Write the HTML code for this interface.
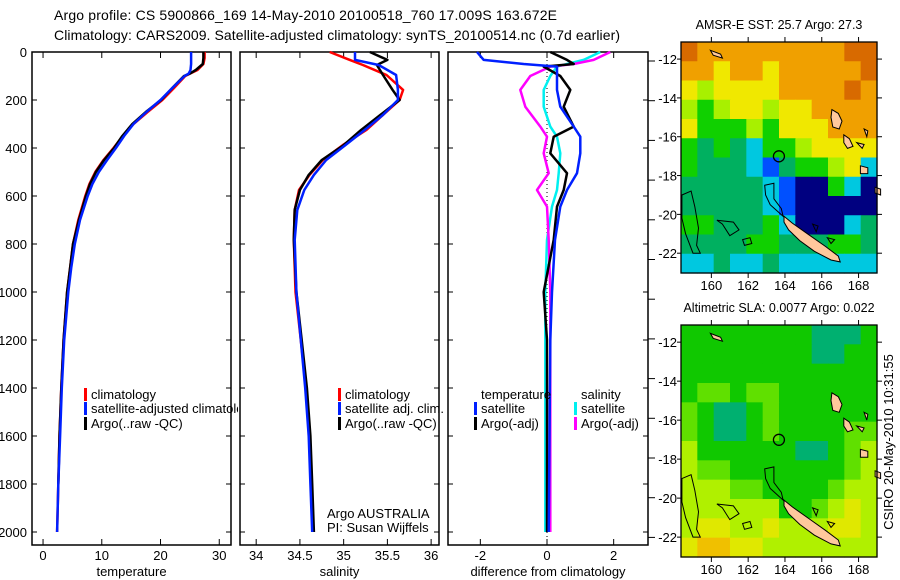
<!DOCTYPE html>
<html><head><meta charset="utf-8"><style>
html,body{margin:0;padding:0;background:#fff;}
svg{display:block;font-family:"Liberation Sans",sans-serif;}
</style></head><body>
<svg id="fig" width="900" height="580" viewBox="0 0 900 580" xmlns="http://www.w3.org/2000/svg">
<defs><clipPath id="clipP1"><rect x="0" y="0" width="238" height="580"/></clipPath></defs>
<rect width="900" height="580" fill="#fff"/>
<text x="54" y="20" font-size="14" textLength="503">Argo profile: CS 5900866_169 14-May-2010 20100518_760 17.009S 163.672E</text>
<text x="54" y="40" font-size="14" textLength="566">Climatology: CARS2009. Satellite-adjusted climatology: synTS_20100514.nc (0.7d earlier)</text>
<g id="layer"></g>
</svg>
<script>
// ---------- profile data ----------
const depths = [0,25,50,75,90,100,150,200,250,300,350,400,450,500,550,600,700,800,900,1000,1200,1400,1600,1800,2000];
const tempClim = [27.5,27.5,27.3,26.3,25,24.2,22.3,20.3,17.8,15.4,13.6,12,10.3,8.9,7.9,7.2,6.0,5.1,4.6,4.1,3.5,3.1,2.8,2.6,2.4];
const tempSat  = [25.2,25.2,25.2,25.1,24.8,24.1,22.0,20.0,17.6,15.4,13.8,12.4,10.9,9.5,8.4,7.6,6.3,5.4,4.8,4.3,3.6,3.2,2.9,2.6,2.4];
const tempArgo = [27.3,27.3,27.2,26.0,25,24.0,22.0,20.1,17.5,15.2,13.5,12.1,10.4,9.0,8.0,7.3,6.1,5.1,4.6,4.1,3.5,3.1,2.8,2.6,2.45];
const salDepths = [0,33,54,96,158,200,262,325,388,450,512,575,658,783,1000,1200,1400,1600,1800,2000];
const salClim = [34.84,35.07,35.22,35.49,35.68,35.64,35.45,35.26,34.99,34.76,34.61,34.49,34.44,34.43,34.45,34.51,34.57,34.61,34.63,34.65];
const salSat  = [35.13,35.13,35.4,35.6,35.62,35.62,35.45,35.24,35.02,34.8,34.66,34.55,34.47,34.44,34.46,34.51,34.56,34.6,34.62,34.64];
const salArgo = [35.3,35.5,35.38,35.45,35.56,35.64,35.42,35.2,35.0,34.75,34.6,34.5,34.44,34.43,34.46,34.52,34.58,34.62,34.64,34.66];
const diffDepths = [0,33,50,61,100,158,228,311,353,422,505,575,644,783,1000,1200,1500,2000];
const dTempSat  = [-2.1,-1.9,-0.7,0.3,0.3,0.3,0.4,0.8,1.0,1.0,0.9,0.6,0.4,0.24,0.15,0.1,0.08,0.05];
const dTempArgo = [0.1,0.6,0.8,-0.1,0.4,0.7,0.5,0.8,0.2,0.1,0.6,0.5,0.3,0.2,-0.1,0.0,0.0,0.0];
const dSalSat   = [1.6,1.1,0.6,0.3,0.1,-0.1,-0.1,0.1,0.3,0.4,0.35,0.3,0.15,0.0,-0.05,-0.05,-0.05,-0.05];
const dSalArgo  = [1.9,1.4,0.8,0.1,-0.5,-0.8,-0.65,-0.2,0.0,-0.1,0.05,-0.3,0.0,0.05,0.1,0.1,0.1,0.1];
const depthTicks = [0,200,400,600,800,1000,1200,1400,1600,1800,2000];
const tempTicks = [0,10,20,30];
const salTicks = [34,34.5,35,35.5,36];
const diffTicks = [-2,0,2];
// ---------- map data ----------
const sstPalette = ['#d86a00','#f0a000','#f0e800','#a8f000','#10d000','#00b060','#00c8e0','#0050ff','#000080'];
const sstGrid = [
[0,1,1,1,1,1,1,1,1,1,0,0],
[1,1,2,1,1,2,1,1,1,1,1,0],
[2,3,2,2,2,2,1,1,1,1,0,1],
[3,4,3,2,2,3,2,2,1,1,1,1],
[2,4,4,4,3,4,2,2,2,1,1,1],
[4,5,4,5,6,4,4,3,2,2,2,2],
[4,5,5,5,6,7,5,4,4,3,2,6],
[5,5,5,5,5,6,7,8,8,4,6,8],
[5,5,5,5,5,6,7,8,8,8,8,8],
[4,4,5,5,5,4,6,8,8,8,6,5],
[5,5,5,5,4,4,5,5,5,4,4,5],
[6,6,5,6,6,5,6,6,6,6,6,6]];
const slaPalette = ['#10c800','#00b070','#60e000','#b0f000','#e0e800','#f0c000'];
const slaGrid = [
[0,0,0,0,0,0,0,0,1,1,1,0],
[0,0,0,0,0,0,0,0,1,1,0,0],
[0,0,0,0,0,0,0,0,0,0,0,0],
[0,2,2,0,2,2,0,0,0,0,0,0],
[2,0,1,1,0,2,0,0,0,0,0,0],
[2,0,1,1,0,2,0,0,0,0,2,2],
[3,0,0,0,0,0,0,1,1,0,2,3],
[3,2,2,0,0,0,0,0,0,0,2,3],
[3,3,3,2,2,0,0,0,0,2,3,3],
[3,3,3,3,3,3,0,0,2,3,4,3],
[3,4,4,3,3,4,3,3,3,4,4,3],
[4,5,5,4,4,3,3,3,3,3,3,3]];
const lonTicks = [160,162,164,166,168];
const latTicks = [-12,-14,-16,-18,-20,-22];
const newCaledonia = [[163.95,-20.1],[164.4,-20.45],[165.3,-21.05],[166.2,-21.65],[166.9,-22.15],[167.0,-22.45],[166.5,-22.35],[165.6,-21.9],[164.8,-21.35],[164.2,-20.8],[163.95,-20.4]];
const islands = [
[[166.55,-14.6],[166.9,-14.8],[167.1,-15.2],[166.95,-15.6],[166.6,-15.5],[166.5,-15.0]],
[[167.2,-15.9],[167.5,-16.1],[167.7,-16.5],[167.4,-16.6],[167.2,-16.3]],
[[168.1,-17.5],[168.5,-17.6],[168.5,-17.9],[168.1,-17.9]],
[[168.9,-18.6],[169.2,-18.7],[169.2,-19.0],[168.9,-18.9]],
[[167.9,-16.3],[168.3,-16.4],[168.2,-16.6]],
[[159.95,-11.55],[160.5,-11.75],[160.6,-11.95],[160.1,-11.8]],
[[168.3,-15.6],[168.5,-15.7],[168.45,-16.0]]];
const reefs = [
[[158.4,-19.0],[158.9,-18.8],[159.1,-19.6],[159.3,-20.7],[159.2,-21.6],[159.4,-22.0],[159.0,-22.0],[158.6,-21.0],[158.4,-20.2]],
[[160.3,-20.3],[161.2,-20.4],[161.5,-20.8],[161.0,-21.1],[160.6,-20.5]],
[[162.9,-18.5],[163.4,-18.4],[163.4,-19.2],[163.8,-19.7],[163.9,-20.1],[163.2,-19.5],[162.95,-19.0]],
[[161.7,-21.3],[162.1,-21.2],[162.2,-21.5],[161.8,-21.6]],
[[165.5,-20.5],[165.8,-20.6],[165.7,-20.9]],
[[166.3,-21.2],[166.7,-21.3],[166.5,-21.5]]];
const argoLon = 163.672, argoLat = -17.009;
</script>
<script>
const NS='http://www.w3.org/2000/svg';
const layer=document.getElementById('layer');
function mk(tag,attrs,parent){const e=document.createElementNS(NS,tag);for(const k in attrs)e.setAttribute(k,attrs[k]);(parent||layer).appendChild(e);return e;}
function txt(x,y,s,size,anchor,parent){const t=mk('text',{x:x,y:y,'font-size':size,'text-anchor':anchor||'start'},parent);t.textContent=s;return t;}

const Y0=52, YS=0.24;
function yD(d){return Y0+d*YS;}
const panels=[
 {x0:32,x1:231,vmin:-1.88,vmax:32.0,ticks:tempTicks,label:'temperature',name:'temperature-panel'},
 {x0:240,x1:439,vmin:33.815,vmax:36.09,ticks:salTicks,label:'salinity',name:'salinity-panel'},
 {x0:448,x1:648,vmin:-2.97,vmax:3.03,ticks:diffTicks,label:'difference from climatology',name:'difference-panel'}];
function xS(p,v){return p.x0+(v-p.vmin)/(p.vmax-p.vmin)*(p.x1-p.x0);}

panels.forEach((p,i)=>{
  const g=mk('g',{});
  
  
  const r=mk('rect',{x:p.x0,y:Y0,width:p.x1-p.x0,height:545-Y0,fill:'#fff',stroke:'#000','stroke-width':1.5},g);
  
  
  p.ticks.forEach(t=>{
    const x=xS(p,t);
    mk('line',{x1:x,y1:545,x2:x,y2:539,stroke:'#000'},g);
    mk('line',{x1:x,y1:Y0,x2:x,y2:Y0+6,stroke:'#000'},g);
    const tl=txt(x,560,String(t),13,'middle',g);
    
    
  });
  depthTicks.forEach(d=>{
    const y=yD(d);
    mk('line',{x1:p.x0,y1:y,x2:p.x0+5,y2:y,stroke:'#000'},g);
    mk('line',{x1:p.x1,y1:y,x2:p.x1-5,y2:y,stroke:'#000'},g);
    if(i===0){const tl=txt(27,y+5,String(d),13,'end',g);
      
      }
  });
  const al=txt((p.x0+p.x1)/2,576,p.label,13,'middle',g);
  
  
});
for(let k=0;k<13;k++){const y=61+k*39.7;mk('line',{x1:648,y1:y,x2:655,y2:y,stroke:'#000'});}
const zl=mk('line',{x1:xS(panels[2],0),y1:Y0,x2:xS(panels[2],0),y2:545,stroke:'#000','stroke-dasharray':'1,3'});



function profile(p,ds,vals,color,name,w,maxD){
  let pts=[];
  ds.forEach((d,k)=>{if(maxD===undefined||d<=maxD)pts.push(xS(p,vals[k]).toFixed(1)+','+yD(d).toFixed(1));});
  const e=mk('polyline',{points:pts.join(' '),fill:'none',stroke:color,'stroke-width':w||2.5,'stroke-linejoin':'round'});
  
  
}
profile(panels[0],depths,tempClim,'#f00','temp-climatology-line');
profile(panels[0],depths,tempArgo,'#000','temp-argo-line',2.5,1980);
profile(panels[0],depths,tempSat,'#0020ff','temp-satellite-line');
profile(panels[1],salDepths,salClim,'#f00','sal-climatology-line');
profile(panels[1],salDepths,salArgo,'#000','sal-argo-line',2.5);
profile(panels[1],salDepths,salSat,'#0020ff','sal-satellite-line');
profile(panels[2],diffDepths,dSalSat,'#00f0f0','diff-sal-satellite-line');
profile(panels[2],diffDepths,dSalArgo,'#f0f','diff-sal-argo-line');
profile(panels[2],diffDepths,dTempArgo,'#000','diff-temp-argo-line');
profile(panels[2],diffDepths,dTempSat,'#0020ff','diff-temp-satellite-line');

function legend(x,y,color,label,name,clip){
  const g=mk('g',{});
  
  
  if(clip)g.setAttribute('clip-path','url(#clipP1)');
  if(color)mk('rect',{x:x,y:y-10,width:3,height:13,fill:color},g);
  txt(x+7,y+1,label,13,'start',g);
  return g;
}
legend(84,398,'#f00','climatology','legend-temp-climatology',true);
legend(84,412,'#0020ff','satellite-adjusted climatology','legend-temp-satellite',true);
legend(84,427,'#000','Argo(..raw -QC)','legend-temp-argo',true);
legend(338,398,'#f00','climatology','legend-sal-climatology');
legend(338,412,'#0020ff','satellite adj. clim.','legend-sal-satellite');
legend(338,427,'#000','Argo(..raw -QC)','legend-sal-argo');
let t1=txt(327,518,'Argo AUSTRALIA',13);
let t2=txt(327,532,'PI: Susan Wijffels',13);
legend(474,398,null,'temperature','legend-temp-heading');
legend(474,412,'#0020ff','satellite','legend-diff-temp-satellite');
legend(474,427,'#000','Argo(-adj)','legend-diff-temp-argo');
legend(574,398,null,'salinity','legend-sal-heading');
legend(574,412,'#00f0f0','satellite','legend-diff-sal-satellite');
legend(574,427,'#f0f','Argo(-adj)','legend-diff-sal-argo');

// ---------- maps ----------
function drawMap(top,h,grid,pal,title,name){
  const X0=681,W=196;
  const g=mk('g',{});
  
  
  const lonX=l=>X0+(l-158.35)*18.4;
  const latY=l=>top+(-11.12-l)*(h/11.9);
  const cw=W/grid[0].length, ch=h/grid.length;
  grid.forEach((row,r)=>row.forEach((v,c)=>{
    const cell=mk('rect',{x:(X0+c*cw).toFixed(2),y:(top+r*ch).toFixed(2),width:(cw+0.6).toFixed(2),height:(ch+0.6).toFixed(2),fill:pal[v]},g);
    
    
  }));
  const poly=(pts,fill)=>mk('polygon',{points:pts.map(q=>lonX(q[0]).toFixed(1)+','+latY(q[1]).toFixed(1)).join(' '),fill:fill,stroke:'#000','stroke-width':1},g);
  reefs.forEach(p=>{const e=poly(p,'none');});
  const nc=poly(newCaledonia,'#ffc89c');
  islands.forEach(p=>{const e=poly(p,'#ffc89c');});
  const c=mk('circle',{cx:lonX(argoLon),cy:latY(argoLat),r:5.5,fill:'none',stroke:'#000','stroke-width':1.3},g);
  
  
  mk('rect',{x:X0,y:top,width:W,height:h,fill:'none',stroke:'#000','stroke-width':1.3},g);
  lonTicks.forEach(l=>{const x=lonX(l);
    mk('line',{x1:x,y1:top+h,x2:x,y2:top+h+5,stroke:'#000'},g);
    mk('line',{x1:x,y1:top,x2:x,y2:top-5,stroke:'#000'},g);
    const tl=txt(x,top+h+17,String(l),13,'middle',g);
    });
  latTicks.forEach(l=>{const y=latY(l);
    mk('line',{x1:X0,y1:y,x2:X0-4,y2:y,stroke:'#000'},g);
    mk('line',{x1:X0+W,y1:y,x2:X0+W+5,y2:y,stroke:'#000'},g);
    const tl=txt(X0-4,y+5,String(l),13,'end',g);
    });
  const tt=txt(X0+W/2,top-13,title,12.5,'middle',g);
  
}
drawMap(42,231,sstGrid,sstPalette,'AMSR-E SST: 25.7 Argo: 27.3','sst-map');
drawMap(325,232,slaGrid,slaPalette,'Altimetric SLA: 0.0077 Argo: 0.022','sla-map');
const ts=txt(0,0,'CSIRO 20-May-2010 10:31:55',13,'middle');
ts.setAttribute('transform','translate(893,442) rotate(-90)');


</script>
</body></html>
